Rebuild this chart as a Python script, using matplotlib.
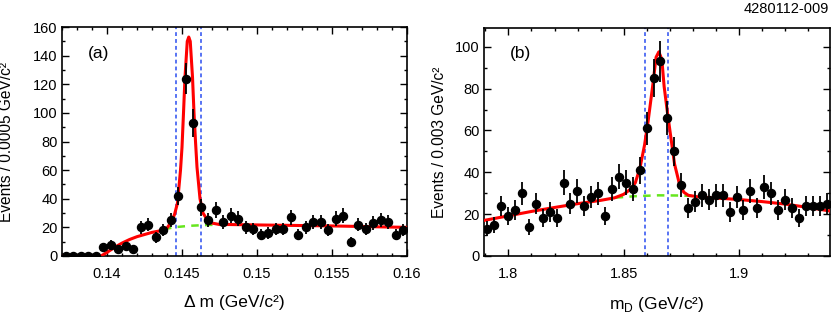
import numpy as np
import matplotlib
matplotlib.use('Agg')
import matplotlib.pyplot as plt
from matplotlib.ticker import MultipleLocator

plt.rcParams['font.family'] = ['Liberation Sans', 'DejaVu Sans']
plt.rcParams['mathtext.fontset'] = 'custom'
plt.rcParams['mathtext.rm'] = 'Liberation Sans'

# (a) delta m histogram, 0.0005 GeV bins from 0.137
dm_lo, dm_w = 0.137, 0.0005
dm_counts = [0, 0, 0, 0, 0, 6, 8, 5, 7, 5, 20, 22, 13, 18, 25, 42, 124, 93, 34, 25,
             32, 24, 28, 26, 20, 19, 15, 16, 19, 19, 27, 15, 20, 24, 24, 18, 26, 28, 10, 22,
             19, 23, 25, 24, 15, 18]
# fit (red) and background (green)
dm_fit_x = [0.1370, 0.1396, 0.1400, 0.1405, 0.1410, 0.1415, 0.1420, 0.1425, 0.1430, 0.1435,
            0.1440, 0.1443, 0.1445, 0.1447, 0.1449, 0.1450, 0.1451, 0.1452, 0.14535, 0.14545,
            0.14555, 0.1457, 0.1458, 0.1459, 0.1460, 0.1462, 0.1464, 0.1467, 0.1470, 0.1475,
            0.1480, 0.1500, 0.1550, 0.1600]
dm_fit_y = [0, 0, 2.5, 6, 9, 11.5, 13.5, 15, 16.5, 17.5,
            19.5, 24, 29, 37, 60, 76, 100, 125, 150, 153,
            150, 125, 100, 80, 62, 40, 30, 25, 23, 22,
            22, 21.7, 21, 20]
dm_bkg_x = [0.1438, 0.1445, 0.1455, 0.1465, 0.1475]
dm_bkg_y = [18.7, 20.1, 21.1, 21.6, 21.9]
dm_cuts = [0.14463, 0.14625]

# (b) m_D histogram, 0.003 GeV bins from 1.7894
md_lo, md_w = 1.7894, 0.003
md_counts = [13, 15, 24, 19, 22, 30, 14, 25, 18, 21, 18, 35, 25, 31, 24, 28, 30, 19, 32, 38,
             35, 32, 41, 61, 85, 93, 66, 50, 34, 23, 26, 29, 27, 29, 29, 21, 28, 22, 31, 23,
             33, 30, 22, 27, 23, 18, 24, 24, 24, 25]
md_fit_x = [1.7894, 1.800, 1.810, 1.820, 1.830, 1.840, 1.846, 1.850, 1.853, 1.855,
            1.857, 1.859, 1.8605, 1.8625, 1.8640, 1.8652, 1.8665, 1.8675, 1.869, 1.8705,
            1.872, 1.874, 1.876, 1.878, 1.882, 1.890, 1.900, 1.910, 1.920, 1.930, 1.9394]
md_fit_y = [17, 19.2, 21.3, 23.2, 25, 26.6, 27.8, 29.5, 32, 35,
            42, 53, 64, 81, 95, 97.6, 94, 81, 68, 56,
            44, 35, 30.5, 29, 28.3, 27.7, 27, 26, 24.8, 23.2, 21.5]
md_bkg_x = [1.8465, 1.855, 1.865, 1.875, 1.883]
md_bkg_y = [27.9, 28.6, 29.0, 28.9, 28.5]
md_cuts = [1.8594, 1.8692]


def panel(ax, lo, w, counts, fx, fy, bx, by, cuts):
    counts = np.array(counts, dtype=float)
    x = lo + w * (np.arange(len(counts)) + 0.5)
    ax.plot(bx, by, '--', color='#66e61e', lw=1.8, dashes=(3, 2.5), zorder=2)
    ax.plot(fx, fy, '-', color='#ff0000', lw=2.2, zorder=3)
    for c in cuts:
        ax.axvline(c, color='#2a4df0', lw=1.1, ls=(0, (2.5, 2)), zorder=1)
    ax.errorbar(x, counts, yerr=np.sqrt(counts), xerr=w / 2, fmt='o', color='black',
                ms=5.8, elinewidth=1.3, capsize=0, zorder=4)
    ax.tick_params(which='both', direction='in', top=True, right=True,
                   width=1.0, labelsize=10.5)
    ax.tick_params(which='major', length=5)
    ax.tick_params(which='minor', length=2.5)
    ax.tick_params(axis='x', pad=8)
    ax.tick_params(axis='y', pad=3)
    for s in ax.spines.values():
        s.set_linewidth(1.2)


fig = plt.figure(figsize=(8.31, 3.18), dpi=100)
ax1 = fig.add_axes([0.0746, 0.195, 0.4152, 0.720])
ax2 = fig.add_axes([0.5824, 0.195, 0.4164, 0.717])

panel(ax1, dm_lo, dm_w, dm_counts, dm_fit_x, dm_fit_y, dm_bkg_x, dm_bkg_y, dm_cuts)
ax1.set_xlim(0.137, 0.160)
ax1.set_ylim(0, 160)
ax1.set_xticks([0.14, 0.145, 0.15, 0.155, 0.16])
ax1.set_xticklabels(['0.14', '0.145', '0.15', '0.155', '0.16'])
ax1.xaxis.set_minor_locator(MultipleLocator(0.001))
ax1.yaxis.set_major_locator(MultipleLocator(20))
ax1.yaxis.set_minor_locator(MultipleLocator(10))
ax1.set_xlabel('Δ m (GeV/c²)', fontsize=12.5)
ax1.set_ylabel('Events / 0.0005 GeV/c²', fontsize=11.2)
ax1.xaxis.set_label_coords(0.5, -0.17)
ax1.yaxis.set_label_coords(-0.14, 0.5)
ax1.text(0.075, 0.886, '(a)', transform=ax1.transAxes, fontsize=12.5, va='center')

panel(ax2, md_lo, md_w, md_counts, md_fit_x, md_fit_y, md_bkg_x, md_bkg_y, md_cuts)
ax2.set_xlim(1.7894, 1.9394)
ax2.set_ylim(0, 109)
ax2.set_xticks([1.8, 1.85, 1.9])
ax2.set_xticklabels(['1.8', '1.85', '1.9'])
ax2.xaxis.set_minor_locator(MultipleLocator(0.01))
ax2.yaxis.set_major_locator(MultipleLocator(20))
ax2.yaxis.set_minor_locator(MultipleLocator(10))
ax2.set_xlabel(r'm$_\mathregular{D}$ (GeV/c²)', fontsize=12.5)
ax2.set_ylabel('Events / 0.003 GeV/c²', fontsize=11.2)
ax2.xaxis.set_label_coords(0.5, -0.17)
ax2.yaxis.set_label_coords(-0.107, 0.5)
ax2.text(0.075, 0.886, '(b)', transform=ax2.transAxes, fontsize=12.5, va='center')

fig.text(0.998, 0.995, '4280112-009', ha='right', va='top', fontsize=10.5)

fig.savefig('out.png', dpi=100)
